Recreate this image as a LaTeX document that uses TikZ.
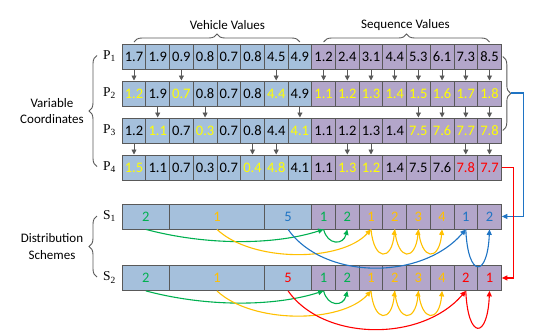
\documentclass[tikz,border=0pt]{standalone}
\usepackage{fontspec}
\setmainfont{Carlito}
\newfontfamily\serifP{Liberation Serif}
\usetikzlibrary{arrows.meta,decorations.pathreplacing}
\definecolor{vbl}{HTML}{A5C0DC}
\definecolor{spu}{HTML}{B3A6CA}
\definecolor{edgec}{HTML}{595959}
\definecolor{ylw}{HTML}{FFFF00}
\definecolor{org}{HTML}{FFC000}
\definecolor{grn}{HTML}{00B050}
\definecolor{blu}{HTML}{1F74C4}
\definecolor{rd}{HTML}{FF0000}
\newcommand\cellrow[3]{%
  \foreach \v/\c [count=\i] in {#3} {%
    \ifnum\i<9 \def\fc{vbl}\else\def\fc{spu}\fi
    \node[cell,fill=\fc,text=\c] (#1c\i) at ({121.7+(\i-1)*23.7},#2) {\v};
  }}
\begin{document}
\begin{tikzpicture}[x=1pt,y=-1pt,
  cell/.style={draw=edgec,line width=0.9pt,minimum width=23.7pt,minimum height=25pt,inner sep=0pt,anchor=north west,font=\fontsize{14.5}{15}\selectfont},
  lbl/.style={font=\fontsize{13}{16.5}\selectfont,align=center,inner sep=0pt},
  plbl/.style={font=\serifP\fontsize{13.5}{14}\selectfont,inner sep=0pt},
  darr/.style={draw=edgec,line width=0.9pt,-{Triangle[length=5pt,width=5pt]}},
  brc/.style={draw=edgec,line width=0.9pt,decorate,decoration={brace,amplitude=8pt}},
  sarr/.style={line width=1.1pt,-{Triangle[length=5.5pt,width=5pt]}}]
\useasboundingbox (0,0) rectangle (539,333);
% value rows
\cellrow{p1}{43.5}{1.7/black,1.9/black,0.9/black,0.8/black,0.7/black,0.8/black,4.5/black,4.9/black,1.2/black,2.4/black,3.1/black,4.4/black,5.3/black,6.1/black,7.3/black,8.5/black}
\cellrow{p2}{80.5}{1.2/ylw,1.9/black,0.7/ylw,0.8/black,0.7/black,0.8/black,4.4/ylw,4.9/black,1.1/ylw,1.2/ylw,1.3/ylw,1.4/ylw,1.5/ylw,1.6/ylw,1.7/ylw,1.8/ylw}
\cellrow{p3}{117.5}{1.2/black,1.1/ylw,0.7/black,0.3/ylw,0.7/black,0.8/black,4.4/black,4.1/ylw,1.1/black,1.2/black,1.3/black,1.4/black,7.5/ylw,7.6/ylw,7.7/ylw,7.8/ylw}
\cellrow{p4}{154.5}{1.5/ylw,1.1/black,0.7/black,0.3/black,0.7/black,0.4/ylw,4.8/ylw,4.1/black,1.1/black,1.3/ylw,1.2/ylw,1.4/black,7.5/black,7.6/black,7.8/rd,7.7/rd}
% arrows between rows
\foreach \j in {1,3,7,9,10,11,12,13,14,15,16} \draw[darr] (p1c\j.south) -- (p2c\j.north);
\foreach \j in {2,4,8,13,14,15,16} \draw[darr] (p2c\j.south) -- (p3c\j.north);
\foreach \j in {1,6,7,10,11,15,16} \draw[darr] (p3c\j.south) -- (p4c\j.north);
% labels
\node[plbl] (P1) at (109.5,56) {P\textsubscript{1}};
\node[plbl] (P2) at (109.5,93) {P\textsubscript{2}};
\node[plbl] (P3) at (109.5,130) {P\textsubscript{3}};
\node[plbl] (P4) at (109.5,167) {P\textsubscript{4}};
\draw[brc] ([yshift=1.5pt]p1c1.north) -- ([yshift=1.5pt]p1c8.north);
\draw[brc] ([yshift=1.5pt]p1c9.north) -- ([yshift=1.5pt]p1c16.north);
\node[lbl] (vv) at (227.5,25) {Vehicle Values};
\node[lbl] (sv) at (405.5,25) {Sequence Values};
\draw[brc] (97,166.5) -- (97,55.5);
\node[lbl] (vc) at (52,111) {Variable\\Coordinates};
\draw[brc] (97,277) -- (97,216);
\node[lbl] (ds) at (52,246.5) {Distribution\\Schemes};
\node[plbl] (S1) at (109.5,216) {S\textsubscript{1}};
\node[plbl] (S2) at (109.5,277.5) {S\textsubscript{2}};
% scheme rows
\foreach \r/\top/\fcol in {1/203.5/blu,2/265/rd} {
  \node[cell,fill=vbl,minimum width=47.4pt,text=grn] (s\r v1) at (121.7,\top) {2};
  \node[cell,fill=vbl,minimum width=94.8pt,text=org] (s\r v2) at (169.1,\top) {1};
  \node[cell,fill=vbl,minimum width=47.4pt,text=\fcol] (s\r v3) at (263.9,\top) {5};
}
\foreach \v/\c [count=\k from 9] in {1/grn,2/grn,1/org,2/org,3/org,4/org,1/blu,2/blu}
  \node[cell,fill=spu,text=\c] (s1q\k) at ({121.7+(\k-1)*23.7},203.5) {\v};
\foreach \v/\c [count=\k from 9] in {1/grn,2/grn,1/org,2/org,3/org,4/org,2/rd,1/rd}
  \node[cell,fill=spu,text=\c] (s2q\k) at ({121.7+(\k-1)*23.7},265) {\v};
% scheme arrows
\foreach \r/\fcol in {1/blu,2/rd} {
  \draw[sarr,grn] (s\r v1.south) .. controls +(60,16) and +(-50,16) .. (s\r q9.south);
  \draw[sarr,grn] (s\r q9.south) .. controls +(4,16) and +(-4,16) .. (s\r q10.south);
  \draw[sarr,org] (s\r v2.south) .. controls +(35,33) and +(-30,33) .. (s\r q11.south);
  \draw[sarr,org] (s\r q11.south) .. controls +(3,32) and +(-3,32) .. (s\r q12.south);
  \draw[sarr,org] (s\r q12.south) .. controls +(3,32) and +(-3,32) .. (s\r q13.south);
  \draw[sarr,org] (s\r q13.south) .. controls +(3,32) and +(-3,32) .. (s\r q14.south);
  \draw[sarr,\fcol] (s\r v3.south) .. controls +(35,50) and +(-45,52) .. (s\r q15.south);
  \draw[sarr,\fcol] (s\r q15.south) .. controls +(2,49) and +(-2,49) .. (s\r q16.south);
}
% right connectors
\draw[brc] ([xshift=1pt]p1c16.east) -- ([xshift=1pt]p3c16.east);
\coordinate (bt) at (511,93);
\draw[sarr,blu] (bt) -- ++(12.5,0) |- (s1q16.east);
\draw[sarr,rd] (p4c16.east) -- ++(11.7,0) |- (s2q16.east);
\end{tikzpicture}
\end{document}
